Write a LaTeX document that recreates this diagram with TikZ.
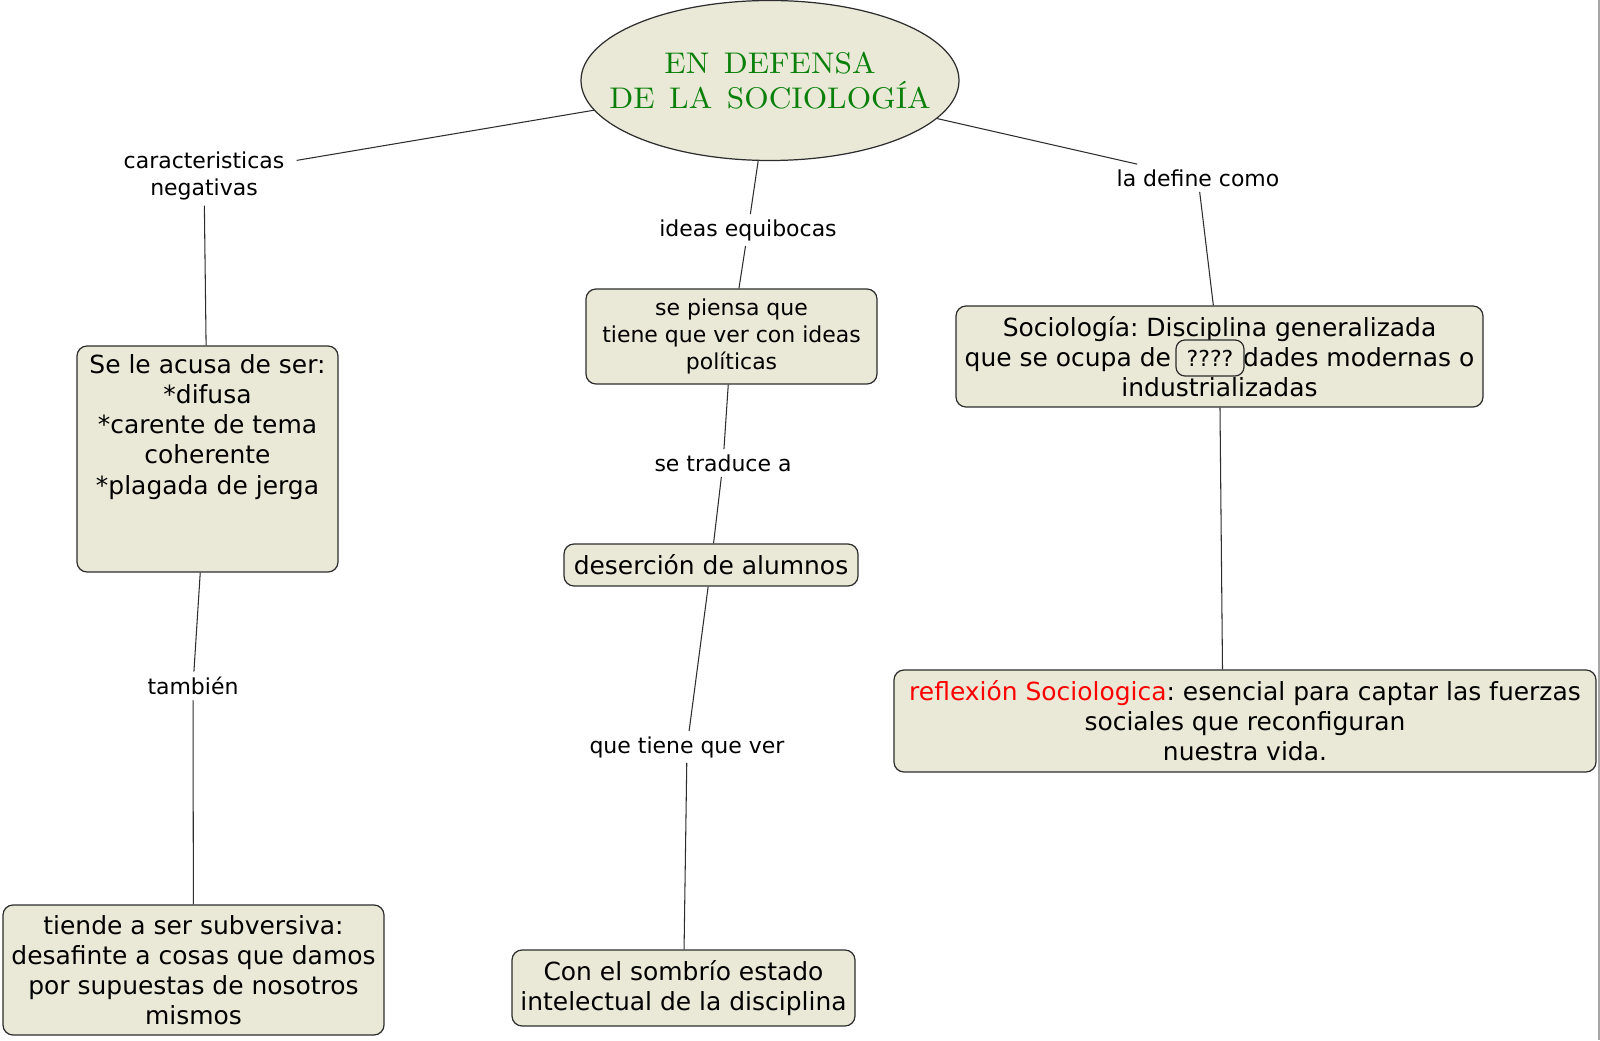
\documentclass[tikz,border=0pt]{standalone}
\usepackage{fontspec}
\setsansfont{DejaVu Sans}
\newfontfamily\titlefont{lmroman10-regular.otf}[FakeStretch=1.05, WordSpace=1.4]
\usetikzlibrary{shapes.geometric}
\frenchspacing

\definecolor{conceptfill}{RGB}{234,233,216}
\definecolor{titlegreen}{RGB}{10,128,10}
\definecolor{edgegray}{RGB}{45,45,45}

\begin{document}
\begin{tikzpicture}[
    concept/.style={draw=edgegray, line width=0.7pt, fill=conceptfill, rounded corners=0.2cm,
        align=center, inner sep=0pt, font=\sffamily\fontsize{14.2}{17.1}\selectfont},
    small concept/.style={concept, font=\sffamily\fontsize{12.5}{15.4}\selectfont},
    linkphrase/.style={align=center, inner xsep=0.24cm, inner ysep=0.1cm,
        font=\sffamily\fontsize{12.5}{15.4}\selectfont},
    titletext/.style={align=center, text=titlegreen, font=\titlefont\fontsize{17}{19.9}\selectfont},
    conn/.style={draw=edgegray, line width=0.6pt}
]
    % image from (0,0) to (32,20.8)
    \useasboundingbox (0,0) rectangle (32,20.8);
    \draw[gray!70, line width=1pt] (31.98,0) -- (31.98,20.8);

    % Title
    \node[draw=edgegray, line width=0.7pt, fill=conceptfill, ellipse, inner sep=0pt,
          minimum width=7.56cm, minimum height=3.2cm,
          label={[titletext]center:{EN DEFENSA\\DE LA SOCIOLOGÍA}}] (title) at (15.4,19.19) {};

    % Left branch
    \node[linkphrase] (lblneg) at (4.08,17.28) {caracteristicas\\negativas};
    \node[concept, minimum width=5.22cm, minimum height=4.52cm] (acusa) at (4.15,11.62)
        {Se le acusa de ser:\\*difusa\\*carente de tema\\coherente\\*plagada de jerga\\ \strut\\ \strut};
    \node[linkphrase] (lbltam) at (3.86,7.08) {también};
    \node[concept, minimum width=7.62cm, minimum height=2.6cm] (subv) at (3.87,1.4)
        {tiende a ser subversiva:\\desafinte a cosas que damos\\por supuestas de nosotros\\mismos};

    % Middle branch
    \node[linkphrase] (lblidea) at (14.96,16.2) {ideas equibocas};
    \node[small concept, minimum width=5.82cm, minimum height=1.9cm] (piensa) at (14.63,14.07)
        {se piensa que\\tiene que ver con ideas\\políticas};
    \node[linkphrase] (lbltrad) at (14.46,11.54) {se traduce a};
    \node[concept, minimum width=5.88cm, minimum height=0.84cm] (desercion) at (14.22,9.5)
        {deserción de alumnos};
    \node[linkphrase] (lblver) at (13.74,5.86) {que tiene que ver};
    \node[concept, minimum width=6.86cm, minimum height=1.52cm] (sombrio) at (13.67,1.04)
        {Con el sombrío estado\\intelectual de la disciplina};

    % Right branch
    \node[linkphrase] (lbldef) at (23.96,17.24) {la define como};
    \node[concept, minimum width=10.54cm, minimum height=2.02cm] (socio) at (24.39,13.67)
        {Sociología: Disciplina generalizada\\que se ocupa de \phantom{socie}dades modernas o\\industrializadas};
    \node[small concept, minimum width=1.36cm, minimum height=0.72cm, rounded corners=0.18cm] (qmark) at (24.2,13.64) {????};
    \node[concept, minimum width=14.04cm, minimum height=2.04cm] (reflex) at (24.9,6.38)
        {\textcolor{red}{reflexión Sociologica}: esencial para captar las fuerzas\\sociales que reconfiguran\\nuestra vida.};
    \coordinate (reflextop) at ([xshift=0.06cm]socio.south |- reflex.north);

    % Connectors
    \draw[conn] (title) -- (lblneg);
    \draw[conn] (lblneg) -- (acusa);
    \draw[conn] (acusa) -- (lbltam);
    \draw[conn] (lbltam) -- (subv);
    \draw[conn] (title) -- (lblidea);
    \draw[conn] (lblidea) -- (piensa);
    \draw[conn] (piensa) -- (lbltrad);
    \draw[conn] (lbltrad) -- (desercion);
    \draw[conn] (desercion) -- (lblver);
    \draw[conn] (lblver) -- (sombrio);
    \draw[conn] (title) -- (lbldef);
    \draw[conn] (lbldef) -- (socio);
    \draw[conn] (socio) -- (reflextop);
\end{tikzpicture}
\end{document}
